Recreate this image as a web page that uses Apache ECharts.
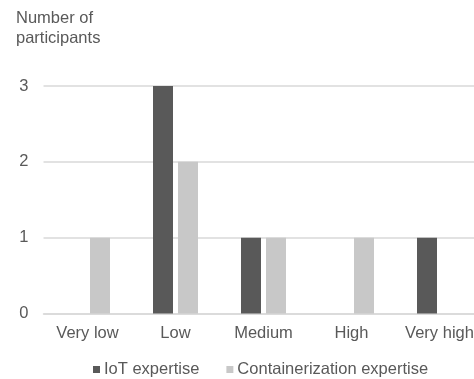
<!DOCTYPE html>
<html>
<head>
<meta charset="utf-8">
<script src="https://cdn.jsdelivr.net/npm/echarts@6/dist/echarts.min.js"></script>
<style>
html,body{margin:0;padding:0;background:#fff;overflow:hidden;}
/* the drawing surface is a little wider than the view so the plot runs off the right edge */
#chart{width:484px;height:379px;}
</style>
</head>
<body>
<div id="chart"></div>
<script>
// Expertise levels on the x axis
const levels = ['Very low', 'Low', 'Medium', 'High', 'Very high'];
// Participant counts per level
const iotExpertise = [0, 3, 1, 0, 1];
const containerExpertise = [1, 2, 1, 1, 0];
const yTicks = [0, 1, 2, 3];

const FONT = '"Liberation Sans", Arial, sans-serif';
const TEXT = '#595959';
const FS = 16.5;

const chart = echarts.init(document.getElementById('chart'), null, { renderer: 'canvas' });
chart.setOption({
  animation: false,
  backgroundColor: '#ffffff',
  textStyle: { fontFamily: FONT },
  title: {
    text: 'Number of\nparticipants',
    left: 11,
    top: 3,
    textStyle: { fontFamily: FONT, fontSize: FS, fontWeight: 'normal', color: TEXT, lineHeight: 20 }
  },
  legend: {
    top: 356,
    left: 88,
    itemWidth: 7,
    itemHeight: 7,
    itemGap: 27,
    icon: 'rect',
    textStyle: { fontFamily: FONT, fontSize: FS, color: TEXT, padding: [0, 0, 0, -1] },
    data: ['IoT expertise', 'Containerization expertise']
  },
  grid: { left: 43.5, top: 86, right: 0.5, bottom: 65.5, containLabel: false },
  xAxis: {
    type: 'category',
    data: levels,
    axisLine: { lineStyle: { color: '#d9d9d9', width: 1.5 } },
    axisTick: { show: false },
    axisLabel: { color: TEXT, fontFamily: FONT, fontSize: FS, margin: 11, interval: 0 }
  },
  yAxis: {
    type: 'value',
    min: yTicks[0],
    max: yTicks[yTicks.length - 1],
    interval: 1,
    axisLine: { show: false },
    axisTick: { show: false },
    axisLabel: { color: TEXT, fontFamily: FONT, fontSize: FS, margin: 15 },
    splitLine: { lineStyle: { color: '#d9d9d9', width: 1.5 } }
  },
  series: [
    {
      name: 'IoT expertise',
      type: 'bar',
      data: iotExpertise,
      barWidth: 20,
      barGap: '25%',
      itemStyle: { color: '#595959' }
    },
    {
      name: 'Containerization expertise',
      type: 'bar',
      data: containerExpertise,
      barWidth: 20,
      itemStyle: { color: '#c8c8c8' }
    }
  ]
});
</script>
</body>
</html>
